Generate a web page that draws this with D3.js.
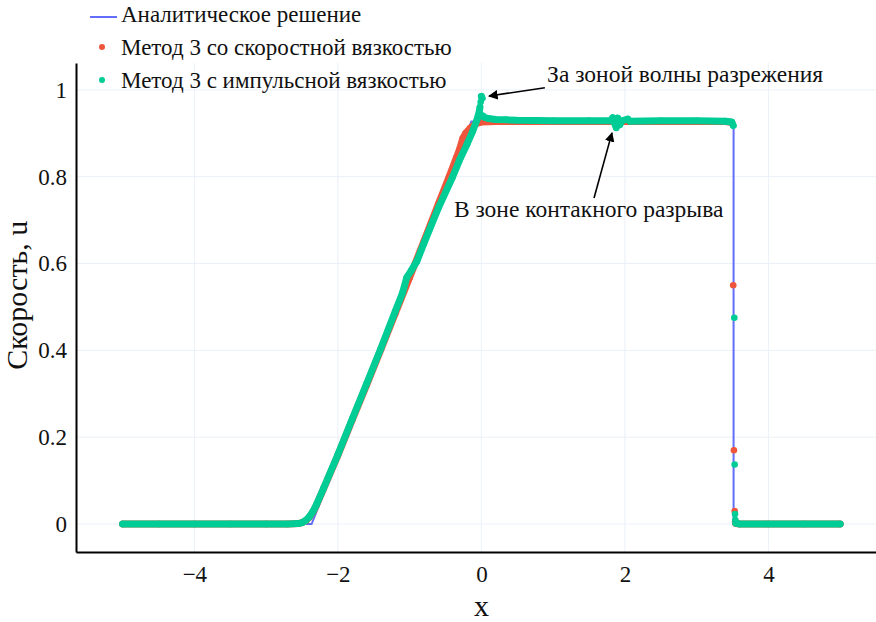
<!DOCTYPE html>
<html>
<head>
<meta charset="utf-8">
<script src="https://cdn.jsdelivr.net/npm/d3@7"></script>
<style>
  html, body { margin: 0; padding: 0; background: #fff; }
  svg { display: block; font-family: "Liberation Serif", "Times New Roman", serif; }
</style>
</head>
<body>
<svg id="chart" width="876" height="622"></svg>
<script>
// Sod shock tube, velocity profile at t = 2
const xTicks = [-4, -2, 0, 2, 4];
const uTicks = [0, 0.2, 0.4, 0.6, 0.8, 1];

// exact solution: rest state, rarefaction fan, plateau, shock, rest state
const exactX = [-5, -2.366, -0.14, 3.515, 3.515, 5];
const exactU = [0, 0, 0.9275, 0.9275, 0, 0];

// method 3 with velocity-based viscosity
const viscX = [-5.0, -4.5, -4.0, -3.5, -3.0, -2.7, -2.55, -2.5, -2.45, -2.4, -2.35, -2.3, -2.2, -2.0, -1.8, -1.6,
  -1.4, -1.2, -1.0, -0.8, -0.6, -0.45, -0.35, -0.3, -0.26, -0.22, -0.15, -0.08, 0.0, 0.2, 0.6, 1.0, 1.5, 2.0,
  2.5, 3.0, 3.4, 3.49, 3.51, 3.52, 3.53, 3.54, 3.545, 3.6, 4.0, 4.5, 5.0];
const viscU = [0, 0, 0, 0, 0, 0, 0.001, 0.003, 0.007, 0.015, 0.027, 0.043, 0.081, 0.158, 0.24, 0.32,
  0.402, 0.485, 0.568, 0.652, 0.737, 0.8, 0.843, 0.865, 0.888, 0.9, 0.913, 0.922, 0.926, 0.927, 0.927, 0.927, 0.927, 0.927,
  0.927, 0.927, 0.927, 0.925, 0.55, 0.17, 0.03, 0.005, 0.001, 0, 0, 0, 0];

// method 3 with momentum-based viscosity
const momX = [-5.0, -4.5, -4.0, -3.5, -3.0, -2.7, -2.55, -2.5, -2.45, -2.4, -2.35, -2.3, -2.2, -2.0, -1.8, -1.6,
  -1.4, -1.2, -1.1, -1.04, -0.98, -0.9, -0.8, -0.6, -0.4, -0.3, -0.2, -0.12, -0.06, -0.03, -0.02, -0.01, 0.0,
  0.01, 0.02, 0.04, 0.1, 0.2, 0.35, 0.5, 1.0, 1.5, 1.8, 1.83, 1.86, 1.88, 1.9, 1.93, 1.96, 2.04, 2.07, 2.5,
  3.0, 3.4, 3.49, 3.51, 3.525, 3.53, 3.535, 3.54, 3.545, 3.6, 4.0, 4.5, 5.0];
const momU = [0, 0, 0, 0, 0, 0, 0.001, 0.003, 0.008, 0.016, 0.028, 0.044, 0.082, 0.16, 0.242, 0.323,
  0.405, 0.49, 0.532, 0.568, 0.583, 0.605, 0.647, 0.728, 0.8, 0.84, 0.875, 0.905, 0.932, 0.95, 0.96, 0.972, 0.985,
  0.981, 0.94, 0.937, 0.934, 0.932, 0.931, 0.93, 0.929, 0.929, 0.929, 0.936, 0.922, 0.913, 0.935, 0.92, 0.929, 0.933, 0.928, 0.929,
  0.929, 0.928, 0.926, 0.918, 0.475, 0.137, 0.023, 0.009, 0.002, 0, 0, 0, 0];

const svg = d3.select("#chart");
const plotLeft = 76, plotRight = 876, plotTop = 63, plotBottom = 552;

const x = d3.scaleLinear().domain([-5.65, 5.5]).range([plotLeft, plotRight]);
const y = d3.scaleLinear().domain([-0.0645, 1.062]).range([plotBottom, plotTop]);

const fmt = d3.format("~g");
const ink = "#111";

// grid
const grid = svg.append("g").attr("stroke", "#ebf0f8").attr("stroke-width", 1);
grid.selectAll("line.gx").data(xTicks).join("line").attr("class", "gx")
  .attr("x1", d => x(d)).attr("x2", d => x(d)).attr("y1", plotTop).attr("y2", plotBottom);
grid.selectAll("line.gy").data(uTicks).join("line").attr("class", "gy")
  .attr("x1", plotLeft).attr("x2", plotRight).attr("y1", d => y(d)).attr("y2", d => y(d));

// axes
const xAxis = svg.append("g").attr("transform", `translate(0,${plotBottom})`)
  .call(d3.axisBottom(x).tickValues(xTicks).tickFormat(fmt).tickSize(0).tickPadding(14));
const yAxis = svg.append("g").attr("transform", `translate(${plotLeft},0)`)
  .call(d3.axisLeft(y).tickValues(uTicks).tickFormat(fmt).tickSize(0).tickPadding(9));
[xAxis, yAxis].forEach(a => {
  a.select(".domain").attr("stroke", "#000").attr("stroke-width", 2);
  a.selectAll("text").attr("font-family", "Liberation Serif").attr("font-size", 23).attr("fill", ink);
});

svg.append("text").attr("x", x(0)).attr("y", 609).attr("text-anchor", "middle")
  .attr("dominant-baseline", "middle").attr("font-size", 30).attr("fill", ink).text("x");
svg.append("text").attr("transform", `translate(20,${y(0.527)}) rotate(-90)`).attr("text-anchor", "middle")
  .attr("dominant-baseline", "middle").attr("font-size", 30).attr("fill", ink).text("Скорость, u");

// plot area clip
const defs = svg.append("defs");
defs.append("clipPath").attr("id", "plot")
  .append("rect").attr("x", plotLeft).attr("y", plotTop)
  .attr("width", plotRight - plotLeft).attr("height", plotBottom - plotTop);
const plot = svg.append("g").attr("clip-path", "url(#plot)");

const line = d3.line().x(d => x(d[0])).y(d => y(d[1]));

// exact solution
plot.append("path").datum(d3.zip(exactX, exactU))
  .attr("d", line).attr("fill", "none").attr("stroke", "#636efa").attr("stroke-width", 2);

// numerical series: neighbouring markers merge into a band,
// points across a steep jump stay as separate dots
function drawMarkers(xs, us, color) {
  const pts = d3.zip(xs, us);
  const segs = [];
  let cur = [pts[0]];
  for (let i = 1; i < pts.length; i++) {
    const slope = Math.abs((pts[i][1] - pts[i - 1][1]) / (pts[i][0] - pts[i - 1][0]));
    if (slope > 1.1) { segs.push(cur); cur = []; }
    cur.push(pts[i]);
  }
  segs.push(cur);
  const g = plot.append("g");
  g.selectAll("path").data(segs.filter(s => s.length > 1)).join("path")
    .attr("d", line).attr("fill", "none").attr("stroke", color)
    .attr("stroke-width", 7).attr("stroke-linecap", "round").attr("stroke-linejoin", "round");
  g.selectAll("circle").data(pts).join("circle")
    .attr("cx", d => x(d[0])).attr("cy", d => y(d[1])).attr("r", 3.3).attr("fill", color);
}
drawMarkers(viscX, viscU, "#ef553b");
drawMarkers(momX, momU, "#00cc96");

// annotations
defs.append("marker").attr("id", "arrow").attr("viewBox", "0 0 10 10").attr("refX", 9).attr("refY", 5)
  .attr("markerWidth", 6).attr("markerHeight", 6).attr("orient", "auto-start-reverse")
  .append("path").attr("d", "M0,0 L10,5 L0,10 z").attr("fill", "#000");

const notes = [
  { text: "За зоной волны разрежения", tx: 2.84, tu: 1.03, fx: 0.885, fu: 1.005, hx: 0.106, hu: 0.986 },
  { text: "В зоне контакного разрыва", tx: 1.495, tu: 0.72, fx: 1.57, fu: 0.751, hx: 1.82, hu: 0.901 }
];
notes.forEach(n => {
  svg.append("line").attr("x1", x(n.fx)).attr("y1", y(n.fu)).attr("x2", x(n.hx)).attr("y2", y(n.hu))
    .attr("stroke", "#000").attr("stroke-width", 1.6).attr("marker-end", "url(#arrow)");
  svg.append("text").attr("x", x(n.tx)).attr("y", y(n.tu)).attr("text-anchor", "middle")
    .attr("dominant-baseline", "middle").attr("font-size", 23.5).attr("fill", ink).text(n.text);
});

// legend
const legend = svg.append("g").attr("font-size", 23).attr("fill", ink);
legend.append("line").attr("x1", 90).attr("x2", 117).attr("y1", 17).attr("y2", 17)
  .attr("stroke", "#636efa").attr("stroke-width", 2);
legend.append("circle").attr("cx", 102).attr("cy", 47).attr("r", 3).attr("fill", "#ef553b");
legend.append("circle").attr("cx", 102).attr("cy", 80).attr("r", 3).attr("fill", "#00cc96");
[["Аналитическое решение", 17], ["Метод 3 со скоростной вязкостью", 50], ["Метод 3 с импульсной вязкостью", 83]]
  .forEach(([t, cy]) => legend.append("text").attr("x", 121).attr("y", cy)
    .attr("dominant-baseline", "middle").text(t));
</script>
</body>
</html>
